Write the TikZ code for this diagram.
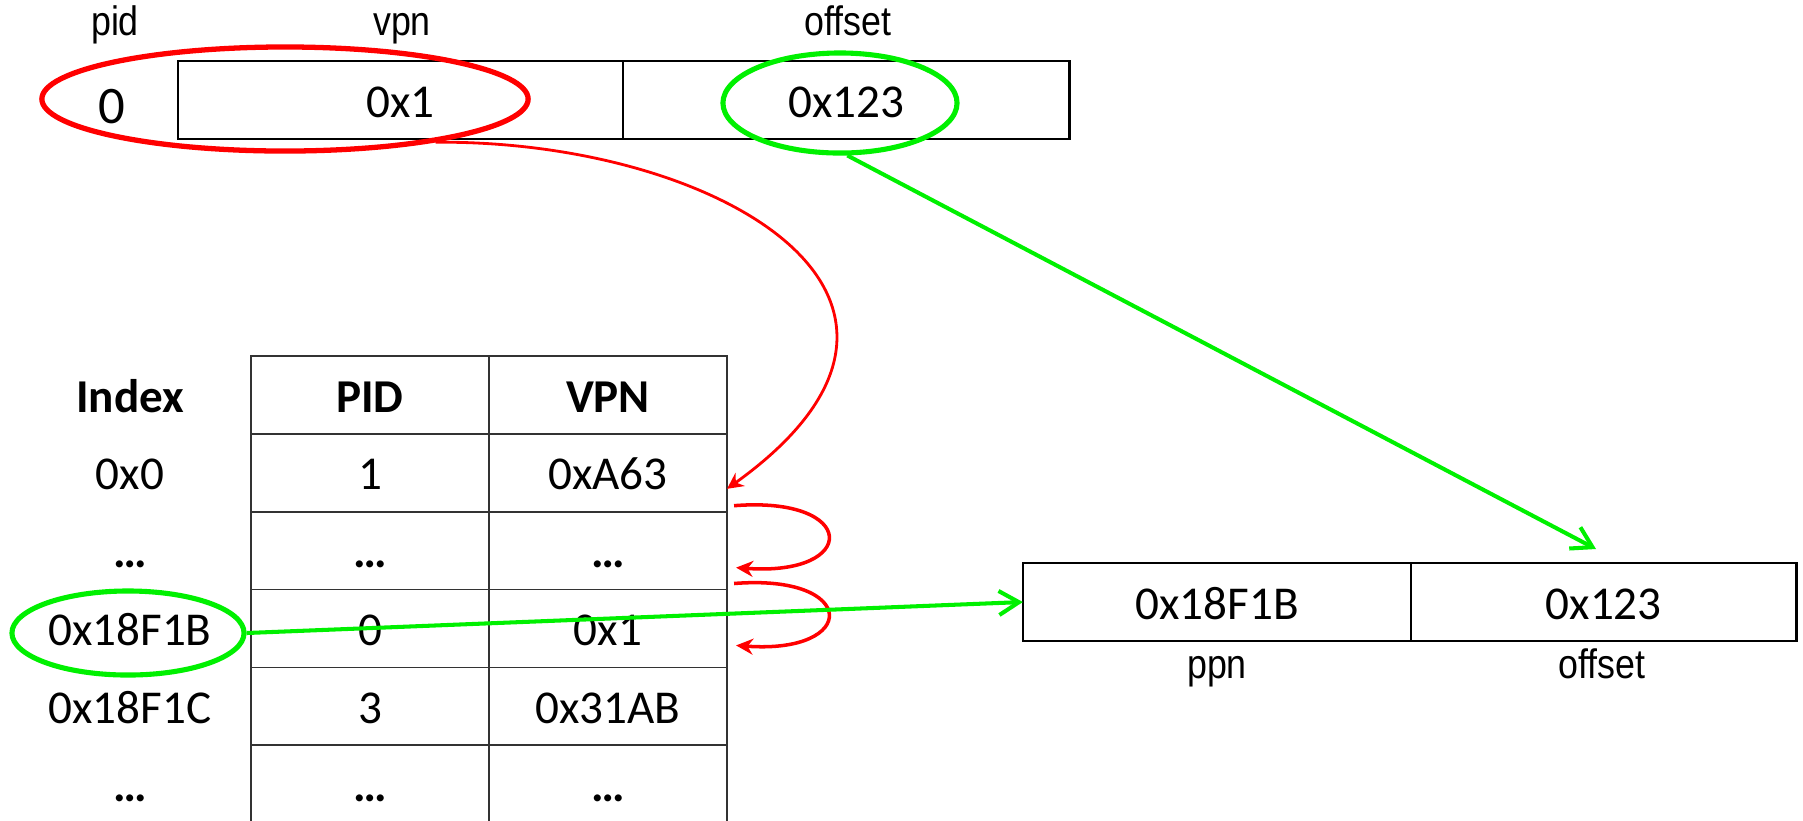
\documentclass[tikz,border=0pt]{standalone}
\usepackage{fontspec}
\setmainfont{Carlito}
\newfontfamily\labelfont[FakeStretch=0.87]{Liberation Sans}
\usetikzlibrary{arrows.meta,shapes.geometric,positioning}

\definecolor{ringred}{RGB}{255,0,0}
\definecolor{ringgreen}{RGB}{0,240,0}

\tikzset{
  field/.style={draw,line width=0.75pt,outer sep=0pt,inner sep=0pt,minimum height=0.78cm,
    text height=0.4cm,text depth=0.06cm,font=\fontsize{13.4}{16}\selectfont},
  cell/.style={draw=black!80,line width=0.45pt,outer sep=0pt,inner sep=0pt,minimum width=2.38cm,
    minimum height=0.778cm,text height=0.4cm,text depth=0.06cm,font=\fontsize{13.4}{16}\selectfont},
  idxcell/.style={cell,draw=none},
  fieldlabel/.style={anchor=base,font=\labelfont\fontsize{11.7}{14}\selectfont},
  redring/.style={ellipse,draw=ringred,line width=1.5pt,inner sep=0pt},
  greenring/.style={ellipse,draw=ringgreen,line width=1.45pt,inner sep=0pt},
  hashlink/.style={ringred,line width=0.8pt,-{Stealth[length=0.16cm,width=0.16cm]}},
  chainlink/.style={ringred,line width=1pt,-{Stealth[length=0.17cm,width=0.16cm]}},
  copylink/.style={ringgreen,line width=1.15pt,-{Straight Barb[length=0.2cm,width=0.24cm]}}
}

\begin{document}
\begin{tikzpicture}[x=0.01cm,y=-0.01cm]
\useasboundingbox (0,0) rectangle (1803,820);

% virtual address
\node[fieldlabel] (pidlabel) at (115,35) {pid};
\node[fieldlabel] (vpnlabel) at (402,35) {vpn};
\node[fieldlabel] (offlabel) at (848,35) {offset};
\node[anchor=base,font=\fontsize{15}{18}\selectfont] (pidval) at (112,123) {0};
\node[field,minimum width=4.45cm] (vpnbox) at (400.5,100) {0x1};
\node[field,minimum width=4.46cm,right=0pt of vpnbox] (offbox) {0x123};
\node[redring,minimum width=4.86cm,minimum height=1.04cm] (pidring) at (285,99) {};
\node[greenring,minimum width=2.34cm,minimum height=1.0cm] (offring) at (840,103) {};

% inverted page table
\node[idxcell,font=\bfseries\fontsize{13.4}{16}\selectfont] (idxhead) at (130,395) {Index};
\node[cell,font=\bfseries\fontsize{13.4}{16}\selectfont] (pidhead) at (370,395) {PID};
\node[cell,font=\bfseries\fontsize{13.4}{16}\selectfont] (vpnhead) at (608,395) {VPN};
\foreach \idx/\pid/\vpn [count=\r] in {0x0/1/0xA63, \textbf{…}/\textbf{…}/\textbf{…}, 0x18F1B/0/0x1,
    0x18F1C/3/0x31AB, \textbf{…}/\textbf{…}/\textbf{…}}{
  \node[idxcell] (idx\r) at (130,{395+77.8*\r}) {\idx};
  \node[cell] (pid\r) at (370,{395+77.8*\r}) {\pid};
  \node[cell] (vpn\r) at (608,{395+77.8*\r}) {\vpn};
}
\node[greenring,minimum width=2.32cm,minimum height=0.84cm] (idxring) at (128,633) {};

% physical address
\node[field,minimum width=3.88cm] (ppnbox) at (1217,602) {0x18F1B};
\node[field,minimum width=3.85cm,right=0pt of ppnbox] (pageoff) {0x123};
\node[fieldlabel] (ppnlabel) at (1217,678) {ppn};
\node[fieldlabel] (pageofflabel) at (1602,678) {offset};

% links
\coordinate (offtip) at (1596,549);
\draw[hashlink] (pidring.-16) .. controls (720,140) and (990,300) .. ([yshift=-0.16cm]vpn1.east);
\foreach \k in {2,3}
  \draw[chainlink] ([shift={(7,-6)}]vpn\k.north east) .. controls +(125,-10) and +(123,9) .. ([shift={(9,17)}]vpn\k.east);
\draw[copylink] (offring.-82) -- (offtip);
\draw[copylink] (idxring.east) -- (ppnbox.west);
\end{tikzpicture}
\end{document}
